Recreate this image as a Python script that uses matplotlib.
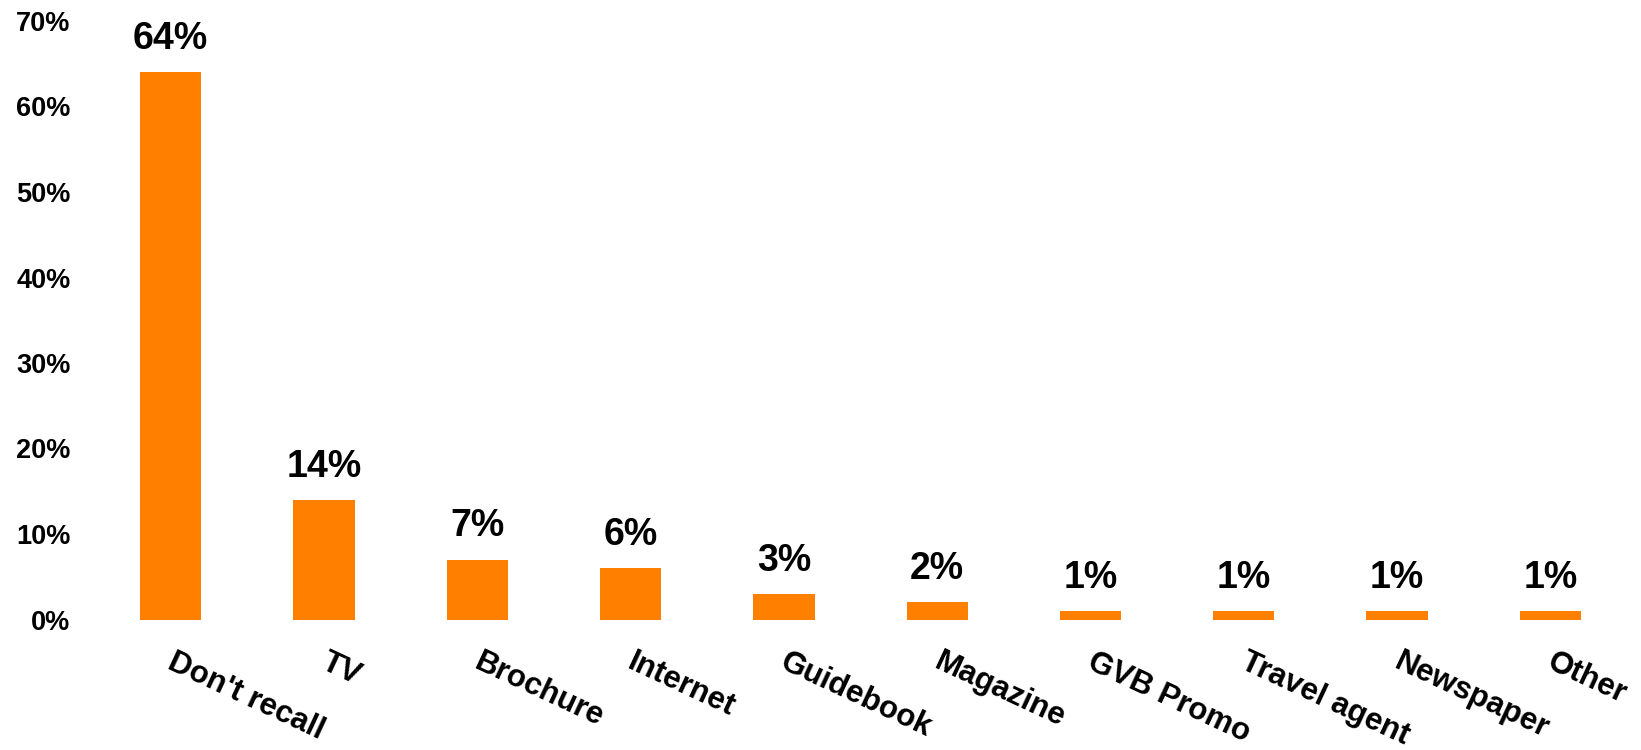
import matplotlib.pyplot as plt
import matplotlib.transforms as mtransforms
from matplotlib.ticker import FuncFormatter

# Share of respondents by source
categories = ["Don't recall", "TV", "Brochure", "Internet", "Guidebook",
              "Magazine", "GVB Promo", "Travel agent", "Newspaper", "Other"]
values = [64, 14, 7, 6, 3, 2, 1, 1, 1, 1]

plt.rcParams['font.family'] = ['Liberation Sans', 'DejaVu Sans']
plt.rcParams['font.weight'] = 'bold'

fig = plt.figure(figsize=(16.41, 7.5), dpi=100)
ax = fig.add_axes([0.0573, 0.174, 0.9342, 0.798])

x = range(len(categories))
bars = ax.bar(x, [v / 100 for v in values], width=0.4, color='#FF7F00')

for b, v in zip(bars, values):
    ax.annotate(f"{v}%", (b.get_x() + b.get_width() / 2, b.get_height()),
                xytext=(0, 11), textcoords='offset points',
                ha='center', va='bottom', fontsize=27, fontweight='bold')

ax.set_xlim(-0.5, len(categories) - 0.5)
ax.set_ylim(0, 0.70)
ax.set_yticks([i / 10 for i in range(8)])
ax.yaxis.set_major_formatter(FuncFormatter(lambda y, _: f"{y * 100:.0f}%"))
ax.tick_params(axis='y', length=0, pad=17, labelsize=19.5)
ax.tick_params(axis='x', length=0, pad=20)
ax.set_xticks(list(x))
ax.set_xticklabels(categories, rotation=-25, ha='left', va='top',
                   rotation_mode='anchor', fontsize=22.5, fontweight='bold')

shift = mtransforms.ScaledTranslation(5 / 100, 0, fig.dpi_scale_trans)
for lbl in ax.get_xticklabels():
    lbl.set_transform(lbl.get_transform() + shift)

for s in ax.spines.values():
    s.set_visible(False)

fig.savefig('out.png', dpi=100)
